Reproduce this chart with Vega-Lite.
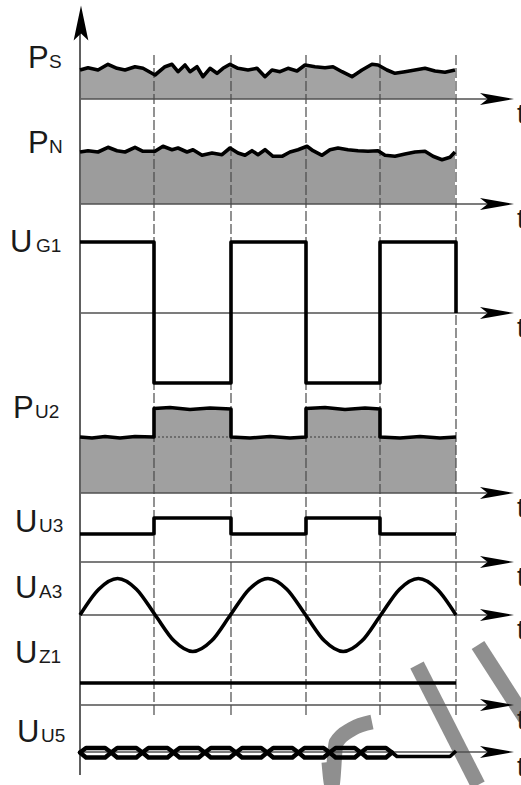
{
  "$schema": "https://vega.github.io/schema/vega-lite/v6.json",
  "width": 521,
  "height": 785,
  "autosize": {"type": "none"},
  "padding": 0,
  "background": "white",
  "config": {"view": {"stroke": null}},
  "datasets": {
    "signals": [
      {"s": "Ps", "t": 0, "y": 70}, {"s": "Ps", "t": 8, "y": 67.7}, {"s": "Ps", "t": 18, "y": 70}, {"s": "Ps", "t": 28, "y": 64.3}, {"s": "Ps", "t": 37, "y": 68.3}, {"s": "Ps", "t": 45, "y": 70}, {"s": "Ps", "t": 55, "y": 66.7}, {"s": "Ps", "t": 63, "y": 68.3}, {"s": "Ps", "t": 75, "y": 75}, {"s": "Ps", "t": 85, "y": 66.7}, {"s": "Ps", "t": 92, "y": 64.3}, {"s": "Ps", "t": 98, "y": 71.7}, {"s": "Ps", "t": 105, "y": 65}, {"s": "Ps", "t": 110, "y": 71.7}, {"s": "Ps", "t": 117, "y": 66.7}, {"s": "Ps", "t": 123, "y": 76.7}, {"s": "Ps", "t": 130, "y": 68.3}, {"s": "Ps", "t": 137, "y": 73.3}, {"s": "Ps", "t": 143, "y": 68.3}, {"s": "Ps", "t": 150, "y": 64.3}, {"s": "Ps", "t": 158, "y": 68.3}, {"s": "Ps", "t": 168, "y": 70}, {"s": "Ps", "t": 177, "y": 68.3}, {"s": "Ps", "t": 185, "y": 76.7}, {"s": "Ps", "t": 192, "y": 70}, {"s": "Ps", "t": 200, "y": 71.7}, {"s": "Ps", "t": 208, "y": 68.3}, {"s": "Ps", "t": 217, "y": 71}, {"s": "Ps", "t": 225, "y": 65}, {"s": "Ps", "t": 235, "y": 66.7}, {"s": "Ps", "t": 245, "y": 67.7}, {"s": "Ps", "t": 253, "y": 66.7}, {"s": "Ps", "t": 262, "y": 71.7}, {"s": "Ps", "t": 272, "y": 76.7}, {"s": "Ps", "t": 282, "y": 70}, {"s": "Ps", "t": 292, "y": 64.3}, {"s": "Ps", "t": 298, "y": 65}, {"s": "Ps", "t": 307, "y": 70}, {"s": "Ps", "t": 315, "y": 73.3}, {"s": "Ps", "t": 325, "y": 71.7}, {"s": "Ps", "t": 335, "y": 70}, {"s": "Ps", "t": 345, "y": 68.3}, {"s": "Ps", "t": 355, "y": 71}, {"s": "Ps", "t": 365, "y": 72.3}, {"s": "Ps", "t": 375, "y": 70},
      {"s": "PN", "t": 0, "y": 152}, {"s": "PN", "t": 8, "y": 150.7}, {"s": "PN", "t": 18, "y": 152}, {"s": "PN", "t": 28, "y": 147.3}, {"s": "PN", "t": 37, "y": 150.7}, {"s": "PN", "t": 45, "y": 152}, {"s": "PN", "t": 55, "y": 147.3}, {"s": "PN", "t": 63, "y": 151.3}, {"s": "PN", "t": 75, "y": 151.3}, {"s": "PN", "t": 83, "y": 146.3}, {"s": "PN", "t": 92, "y": 149.7}, {"s": "PN", "t": 98, "y": 148}, {"s": "PN", "t": 107, "y": 152}, {"s": "PN", "t": 113, "y": 149.7}, {"s": "PN", "t": 122, "y": 155.3}, {"s": "PN", "t": 132, "y": 153}, {"s": "PN", "t": 142, "y": 154.7}, {"s": "PN", "t": 150, "y": 148}, {"s": "PN", "t": 158, "y": 153}, {"s": "PN", "t": 165, "y": 155.3}, {"s": "PN", "t": 172, "y": 150.7}, {"s": "PN", "t": 178, "y": 154.7}, {"s": "PN", "t": 185, "y": 149.7}, {"s": "PN", "t": 193, "y": 156.3}, {"s": "PN", "t": 202, "y": 156.3}, {"s": "PN", "t": 210, "y": 152}, {"s": "PN", "t": 218, "y": 149.7}, {"s": "PN", "t": 227, "y": 146.3}, {"s": "PN", "t": 233, "y": 150.7}, {"s": "PN", "t": 242, "y": 155.3}, {"s": "PN", "t": 250, "y": 149.7}, {"s": "PN", "t": 258, "y": 148}, {"s": "PN", "t": 268, "y": 149.7}, {"s": "PN", "t": 278, "y": 150.7}, {"s": "PN", "t": 288, "y": 151.3}, {"s": "PN", "t": 298, "y": 150.7}, {"s": "PN", "t": 305, "y": 155.3}, {"s": "PN", "t": 315, "y": 156.3}, {"s": "PN", "t": 325, "y": 154}, {"s": "PN", "t": 335, "y": 152}, {"s": "PN", "t": 345, "y": 151.3}, {"s": "PN", "t": 353, "y": 156.3}, {"s": "PN", "t": 362, "y": 159.7}, {"s": "PN", "t": 370, "y": 157.3}, {"s": "PN", "t": 375, "y": 152},
      {"s": "PU2", "t": 0, "y": 437}, {"s": "PU2", "t": 12, "y": 438}, {"s": "PU2", "t": 25, "y": 436.5}, {"s": "PU2", "t": 40, "y": 438}, {"s": "PU2", "t": 55, "y": 436.5}, {"s": "PU2", "t": 74, "y": 437}, {"s": "PU2", "t": 74, "y": 408.5}, {"s": "PU2", "t": 90, "y": 407.5}, {"s": "PU2", "t": 110, "y": 409.5}, {"s": "PU2", "t": 130, "y": 408}, {"s": "PU2", "t": 151, "y": 409}, {"s": "PU2", "t": 151, "y": 437}, {"s": "PU2", "t": 170, "y": 438}, {"s": "PU2", "t": 190, "y": 436.5}, {"s": "PU2", "t": 210, "y": 438}, {"s": "PU2", "t": 226, "y": 437}, {"s": "PU2", "t": 226, "y": 408.5}, {"s": "PU2", "t": 245, "y": 407.5}, {"s": "PU2", "t": 265, "y": 409.5}, {"s": "PU2", "t": 285, "y": 408}, {"s": "PU2", "t": 300, "y": 409}, {"s": "PU2", "t": 300, "y": 437}, {"s": "PU2", "t": 320, "y": 438}, {"s": "PU2", "t": 340, "y": 436.5}, {"s": "PU2", "t": 360, "y": 438}, {"s": "PU2", "t": 376, "y": 437},
      {"s": "UG1", "t": 0, "y": 242}, {"s": "UG1", "t": 74, "y": 242}, {"s": "UG1", "t": 74, "y": 383}, {"s": "UG1", "t": 151, "y": 383}, {"s": "UG1", "t": 151, "y": 242}, {"s": "UG1", "t": 226, "y": 242}, {"s": "UG1", "t": 226, "y": 383}, {"s": "UG1", "t": 300, "y": 383}, {"s": "UG1", "t": 300, "y": 242}, {"s": "UG1", "t": 376, "y": 242}, {"s": "UG1", "t": 376, "y": 313},
      {"s": "UU3", "t": 0, "y": 534}, {"s": "UU3", "t": 74, "y": 534}, {"s": "UU3", "t": 74, "y": 518}, {"s": "UU3", "t": 151, "y": 518}, {"s": "UU3", "t": 151, "y": 534}, {"s": "UU3", "t": 226, "y": 534}, {"s": "UU3", "t": 226, "y": 518}, {"s": "UU3", "t": 300, "y": 518}, {"s": "UU3", "t": 300, "y": 534}, {"s": "UU3", "t": 376, "y": 534},
      {"s": "UZ1", "t": 0, "y": 683}, {"s": "UZ1", "t": 376, "y": 683},
      {"s": "UU5", "t": 312, "y": 752.5}, {"s": "UU5", "t": 317, "y": 756.5}, {"s": "UU5", "t": 370, "y": 756.5}, {"s": "UU5", "t": 376, "y": 751}
    ],
    "sine": [
      {"t": 0, "y": 615}, {"t": 18.8, "y": 589.2}, {"t": 37.6, "y": 578.5}, {"t": 56.4, "y": 589.2}, {"t": 75.2, "y": 615}, {"t": 94, "y": 640.8}, {"t": 112.8, "y": 651.5}, {"t": 131.6, "y": 640.8}, {"t": 150.4, "y": 615}, {"t": 169.2, "y": 589.2}, {"t": 188, "y": 578.5}, {"t": 206.8, "y": 589.2}, {"t": 225.6, "y": 615}, {"t": 244.4, "y": 640.8}, {"t": 263.2, "y": 651.5}, {"t": 282, "y": 640.8}, {"t": 300.8, "y": 615}, {"t": 319.6, "y": 589.2}, {"t": 338.4, "y": 578.5}, {"t": 357.2, "y": 589.2}, {"t": 376, "y": 615}
    ],
    "chain": [
      {"k": 0, "side": "top", "t": 0, "y": 752.5}, {"k": 0, "side": "top", "t": 6, "y": 748}, {"k": 0, "side": "top", "t": 25.2, "y": 748}, {"k": 0, "side": "top", "t": 31.2, "y": 752.5}, {"k": 0, "side": "bot", "t": 0, "y": 752.5}, {"k": 0, "side": "bot", "t": 6, "y": 757.5}, {"k": 0, "side": "bot", "t": 25.2, "y": 757.5}, {"k": 0, "side": "bot", "t": 31.2, "y": 752.5},
      {"k": 1, "side": "top", "t": 31.2, "y": 752.5}, {"k": 1, "side": "top", "t": 37.2, "y": 748}, {"k": 1, "side": "top", "t": 56.4, "y": 748}, {"k": 1, "side": "top", "t": 62.4, "y": 752.5}, {"k": 1, "side": "bot", "t": 31.2, "y": 752.5}, {"k": 1, "side": "bot", "t": 37.2, "y": 757.5}, {"k": 1, "side": "bot", "t": 56.4, "y": 757.5}, {"k": 1, "side": "bot", "t": 62.4, "y": 752.5},
      {"k": 2, "side": "top", "t": 62.4, "y": 752.5}, {"k": 2, "side": "top", "t": 68.4, "y": 748}, {"k": 2, "side": "top", "t": 87.6, "y": 748}, {"k": 2, "side": "top", "t": 93.6, "y": 752.5}, {"k": 2, "side": "bot", "t": 62.4, "y": 752.5}, {"k": 2, "side": "bot", "t": 68.4, "y": 757.5}, {"k": 2, "side": "bot", "t": 87.6, "y": 757.5}, {"k": 2, "side": "bot", "t": 93.6, "y": 752.5},
      {"k": 3, "side": "top", "t": 93.6, "y": 752.5}, {"k": 3, "side": "top", "t": 99.6, "y": 748}, {"k": 3, "side": "top", "t": 118.8, "y": 748}, {"k": 3, "side": "top", "t": 124.8, "y": 752.5}, {"k": 3, "side": "bot", "t": 93.6, "y": 752.5}, {"k": 3, "side": "bot", "t": 99.6, "y": 757.5}, {"k": 3, "side": "bot", "t": 118.8, "y": 757.5}, {"k": 3, "side": "bot", "t": 124.8, "y": 752.5},
      {"k": 4, "side": "top", "t": 124.8, "y": 752.5}, {"k": 4, "side": "top", "t": 130.8, "y": 748}, {"k": 4, "side": "top", "t": 150, "y": 748}, {"k": 4, "side": "top", "t": 156, "y": 752.5}, {"k": 4, "side": "bot", "t": 124.8, "y": 752.5}, {"k": 4, "side": "bot", "t": 130.8, "y": 757.5}, {"k": 4, "side": "bot", "t": 150, "y": 757.5}, {"k": 4, "side": "bot", "t": 156, "y": 752.5},
      {"k": 5, "side": "top", "t": 156, "y": 752.5}, {"k": 5, "side": "top", "t": 162, "y": 748}, {"k": 5, "side": "top", "t": 181.2, "y": 748}, {"k": 5, "side": "top", "t": 187.2, "y": 752.5}, {"k": 5, "side": "bot", "t": 156, "y": 752.5}, {"k": 5, "side": "bot", "t": 162, "y": 757.5}, {"k": 5, "side": "bot", "t": 181.2, "y": 757.5}, {"k": 5, "side": "bot", "t": 187.2, "y": 752.5},
      {"k": 6, "side": "top", "t": 187.2, "y": 752.5}, {"k": 6, "side": "top", "t": 193.2, "y": 748}, {"k": 6, "side": "top", "t": 212.4, "y": 748}, {"k": 6, "side": "top", "t": 218.4, "y": 752.5}, {"k": 6, "side": "bot", "t": 187.2, "y": 752.5}, {"k": 6, "side": "bot", "t": 193.2, "y": 757.5}, {"k": 6, "side": "bot", "t": 212.4, "y": 757.5}, {"k": 6, "side": "bot", "t": 218.4, "y": 752.5},
      {"k": 7, "side": "top", "t": 218.4, "y": 752.5}, {"k": 7, "side": "top", "t": 224.4, "y": 748}, {"k": 7, "side": "top", "t": 243.6, "y": 748}, {"k": 7, "side": "top", "t": 249.6, "y": 752.5}, {"k": 7, "side": "bot", "t": 218.4, "y": 752.5}, {"k": 7, "side": "bot", "t": 224.4, "y": 757.5}, {"k": 7, "side": "bot", "t": 243.6, "y": 757.5}, {"k": 7, "side": "bot", "t": 249.6, "y": 752.5},
      {"k": 8, "side": "top", "t": 249.6, "y": 752.5}, {"k": 8, "side": "top", "t": 255.6, "y": 748}, {"k": 8, "side": "top", "t": 274.8, "y": 748}, {"k": 8, "side": "top", "t": 280.8, "y": 752.5}, {"k": 8, "side": "bot", "t": 249.6, "y": 752.5}, {"k": 8, "side": "bot", "t": 255.6, "y": 757.5}, {"k": 8, "side": "bot", "t": 274.8, "y": 757.5}, {"k": 8, "side": "bot", "t": 280.8, "y": 752.5},
      {"k": 9, "side": "top", "t": 280.8, "y": 752.5}, {"k": 9, "side": "top", "t": 286.8, "y": 748}, {"k": 9, "side": "top", "t": 306, "y": 748}, {"k": 9, "side": "top", "t": 312, "y": 752.5}, {"k": 9, "side": "bot", "t": 280.8, "y": 752.5}, {"k": 9, "side": "bot", "t": 286.8, "y": 757.5}, {"k": 9, "side": "bot", "t": 306, "y": 757.5}, {"k": 9, "side": "bot", "t": 312, "y": 752.5}
    ],
    "baselines": [{"y": 99}, {"y": 204}, {"y": 313}, {"y": 493}, {"y": 562}, {"y": 615}, {"y": 705}, {"y": 752}],
    "periods": [{"t": 74}, {"t": 151}, {"t": 226}, {"t": 300}, {"t": 376}],
    "pulses": [{"t0": 74, "t1": 151}, {"t0": 226, "t1": 300}],
    "labels": [
      {"main": "P", "sub": "S", "tm": -52, "ts": -31, "y": 68},
      {"main": "P", "sub": "N", "tm": -52, "ts": -31, "y": 153},
      {"main": "U", "sub": "G1", "tm": -70, "ts": -44, "y": 252},
      {"main": "P", "sub": "U2", "tm": -67, "ts": -45, "y": 418},
      {"main": "U", "sub": "U3", "tm": -65, "ts": -41, "y": 532},
      {"main": "U", "sub": "A3", "tm": -65, "ts": -41, "y": 598},
      {"main": "U", "sub": "Z1", "tm": -65, "ts": -41, "y": 663},
      {"main": "U", "sub": "U5", "tm": -63, "ts": -39, "y": 742}
    ],
    "wm": [
      {"w": "a", "t": 398, "y": 645}, {"w": "a", "t": 445, "y": 718},
      {"w": "b", "t": 337, "y": 665}, {"w": "b", "t": 398, "y": 785},
      {"w": "c", "t": 292, "y": 722}, {"w": "c", "t": 272, "y": 729}, {"w": "c", "t": 256, "y": 743}, {"w": "c", "t": 249, "y": 762}, {"w": "c", "t": 252, "y": 785}
    ]
  },
  "layer": [
    {
      "data": {"name": "wm"},
      "mark": {"type": "line", "stroke": "#8f8f8f", "strokeWidth": 15, "strokeCap": "butt", "interpolate": "monotone"},
      "encoding": {
        "x": {"field": "t", "type": "quantitative", "scale": {"domain": [-80, 441], "nice": false, "zero": false}, "axis": null},
        "y": {"field": "y", "type": "quantitative", "scale": {"domain": [0, 785], "nice": false, "zero": false, "reverse": true}, "axis": null},
        "detail": {"field": "w"}
      }
    },
    {
      "data": {"name": "signals"},
      "transform": [{"filter": "datum.s === 'Ps'"}],
      "mark": {"type": "area", "fill": "#a3a3a3"},
      "encoding": {
        "x": {"field": "t", "type": "quantitative", "scale": {"domain": [-80, 441], "nice": false, "zero": false}, "axis": null},
        "y": {"field": "y", "type": "quantitative", "scale": {"domain": [0, 785], "nice": false, "zero": false, "reverse": true}, "axis": null, "stack": null},
        "y2": {"datum": 99}
      }
    },
    {
      "data": {"name": "signals"},
      "transform": [{"filter": "datum.s === 'PN'"}],
      "mark": {"type": "area", "fill": "#9c9c9c"},
      "encoding": {
        "x": {"field": "t", "type": "quantitative", "scale": {"domain": [-80, 441], "nice": false, "zero": false}, "axis": null},
        "y": {"field": "y", "type": "quantitative", "scale": {"domain": [0, 785], "nice": false, "zero": false, "reverse": true}, "axis": null, "stack": null},
        "y2": {"datum": 204}
      }
    },
    {
      "data": {"name": "signals"},
      "transform": [{"filter": "datum.s === 'PU2'"}],
      "mark": {"type": "area", "fill": "#a0a0a0"},
      "encoding": {
        "x": {"field": "t", "type": "quantitative", "scale": {"domain": [-80, 441], "nice": false, "zero": false}, "axis": null},
        "y": {"field": "y", "type": "quantitative", "scale": {"domain": [0, 785], "nice": false, "zero": false, "reverse": true}, "axis": null, "stack": null},
        "y2": {"datum": 493}
      }
    },
    {
      "data": {"name": "pulses"},
      "mark": {"type": "rule", "stroke": "#3a3a3a", "strokeWidth": 1, "strokeDash": [2, 2]},
      "encoding": {
        "x": {"field": "t0", "type": "quantitative", "scale": {"domain": [-80, 441], "nice": false, "zero": false}, "axis": null},
        "x2": {"field": "t1"},
        "y": {"datum": 437, "type": "quantitative", "scale": {"domain": [0, 785], "nice": false, "zero": false, "reverse": true}, "axis": null}
      }
    },
    {
      "data": {"name": "baselines"},
      "mark": {"type": "rule", "stroke": "#505050", "strokeWidth": 1.3},
      "encoding": {
        "x": {"datum": 0, "type": "quantitative", "scale": {"domain": [-80, 441], "nice": false, "zero": false}, "axis": null},
        "x2": {"datum": 425},
        "y": {"field": "y", "type": "quantitative", "scale": {"domain": [0, 785], "nice": false, "zero": false, "reverse": true}, "axis": null}
      }
    },
    {
      "data": {"name": "periods"},
      "mark": {"type": "rule", "stroke": "#4a4a4a", "strokeWidth": 1.2, "strokeDash": [10, 3]},
      "encoding": {
        "x": {"field": "t", "type": "quantitative", "scale": {"domain": [-80, 441], "nice": false, "zero": false}, "axis": null},
        "y": {"datum": 55, "type": "quantitative", "scale": {"domain": [0, 785], "nice": false, "zero": false, "reverse": true}, "axis": null},
        "y2": {"datum": 717}
      }
    },
    {
      "data": {"values": [{"t": 0}]},
      "mark": {"type": "rule", "stroke": "#606060", "strokeWidth": 2},
      "encoding": {
        "x": {"field": "t", "type": "quantitative", "scale": {"domain": [-80, 441], "nice": false, "zero": false}, "axis": null},
        "y": {"datum": 20, "type": "quantitative", "scale": {"domain": [0, 785], "nice": false, "zero": false, "reverse": true}, "axis": null},
        "y2": {"datum": 775}
      }
    },
    {
      "data": {"name": "signals"},
      "mark": {"type": "line", "stroke": "#000", "strokeWidth": 3.6, "strokeJoin": "round"},
      "encoding": {
        "x": {"field": "t", "type": "quantitative", "scale": {"domain": [-80, 441], "nice": false, "zero": false}, "axis": null},
        "y": {"field": "y", "type": "quantitative", "scale": {"domain": [0, 785], "nice": false, "zero": false, "reverse": true}, "axis": null},
        "detail": {"field": "s"}
      }
    },
    {
      "data": {"name": "sine"},
      "mark": {"type": "line", "stroke": "#000", "strokeWidth": 3.6, "interpolate": "monotone"},
      "encoding": {
        "x": {"field": "t", "type": "quantitative", "scale": {"domain": [-80, 441], "nice": false, "zero": false}, "axis": null},
        "y": {"field": "y", "type": "quantitative", "scale": {"domain": [0, 785], "nice": false, "zero": false, "reverse": true}, "axis": null}
      }
    },
    {
      "data": {"name": "chain"},
      "mark": {"type": "line", "stroke": "#000", "strokeWidth": 4.4, "strokeJoin": "round", "strokeCap": "round"},
      "encoding": {
        "x": {"field": "t", "type": "quantitative", "scale": {"domain": [-80, 441], "nice": false, "zero": false}, "axis": null},
        "y": {"field": "y", "type": "quantitative", "scale": {"domain": [0, 785], "nice": false, "zero": false, "reverse": true}, "axis": null},
        "detail": [{"field": "k"}, {"field": "side"}]
      }
    },
    {
      "data": {"name": "baselines"},
      "mark": {"type": "point", "filled": true, "fill": "#000", "stroke": null, "opacity": 1, "shape": "M1,0L-1,-0.36L-0.55,0L-1,0.36Z", "size": 1156},
      "encoding": {
        "x": {"datum": 417, "type": "quantitative", "scale": {"domain": [-80, 441], "nice": false, "zero": false}, "axis": null},
        "y": {"field": "y", "type": "quantitative", "scale": {"domain": [0, 785], "nice": false, "zero": false, "reverse": true}, "axis": null}
      }
    },
    {
      "data": {"values": [{"t": 1, "y": 23}]},
      "mark": {"type": "point", "filled": true, "fill": "#000", "stroke": null, "opacity": 1, "shape": "M0,-1L0.42,1L0,0.6L-0.42,1Z", "size": 1225},
      "encoding": {
        "x": {"field": "t", "type": "quantitative", "scale": {"domain": [-80, 441], "nice": false, "zero": false}, "axis": null},
        "y": {"field": "y", "type": "quantitative", "scale": {"domain": [0, 785], "nice": false, "zero": false, "reverse": true}, "axis": null}
      }
    },
    {
      "data": {"name": "baselines"},
      "mark": {"type": "text", "text": "t", "font": "Liberation Sans", "fontSize": 27, "align": "left", "baseline": "alphabetic", "dy": 24, "fill": "#1a1a1a"},
      "encoding": {
        "x": {"datum": 437, "type": "quantitative", "scale": {"domain": [-80, 441], "nice": false, "zero": false}, "axis": null},
        "y": {"field": "y", "type": "quantitative", "scale": {"domain": [0, 785], "nice": false, "zero": false, "reverse": true}, "axis": null}
      }
    },
    {
      "data": {"name": "labels"},
      "mark": {"type": "text", "font": "Liberation Sans", "fontSize": 31, "align": "left", "baseline": "alphabetic", "fill": "#1a1a1a"},
      "encoding": {
        "x": {"field": "tm", "type": "quantitative", "scale": {"domain": [-80, 441], "nice": false, "zero": false}, "axis": null},
        "y": {"field": "y", "type": "quantitative", "scale": {"domain": [0, 785], "nice": false, "zero": false, "reverse": true}, "axis": null},
        "text": {"field": "main"}
      }
    },
    {
      "data": {"name": "labels"},
      "mark": {"type": "text", "font": "Liberation Sans", "fontSize": 19, "align": "left", "baseline": "alphabetic", "fill": "#1a1a1a"},
      "encoding": {
        "x": {"field": "ts", "type": "quantitative", "scale": {"domain": [-80, 441], "nice": false, "zero": false}, "axis": null},
        "y": {"field": "y", "type": "quantitative", "scale": {"domain": [0, 785], "nice": false, "zero": false, "reverse": true}, "axis": null},
        "text": {"field": "sub"}
      }
    }
  ]
}
